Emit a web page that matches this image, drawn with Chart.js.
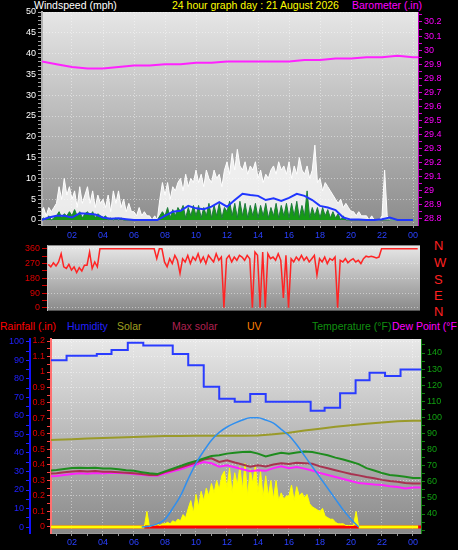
<!DOCTYPE html>
<html>
<head>
<meta charset="utf-8">
<script src="https://cdn.jsdelivr.net/npm/chart.js@4"></script>
<style>
  body { margin: 0; background: #000; width: 458px; height: 550px; overflow: hidden; position: relative;
         font-family: "Liberation Sans", Arial, sans-serif; }
  canvas { position: absolute; left: 0; }
  .lbl { position: absolute; font-size: 10.5px; line-height: 11px; white-space: nowrap; }
  .dir { position: absolute; left: 434px; font-size: 13px; line-height: 13px; color: #ff2020; }
</style>
</head>
<body>
<div class="lbl" style="left:34px;top:0;color:#fff">Windspeed (mph)</div>
<div class="lbl" style="left:172px;top:0;color:#ffff00">24 hour graph day : 21 August 2026</div>
<div class="lbl" style="left:352px;top:0;color:#ff00ff">Barometer (.in)</div>

<div class="dir" style="top:239px">N</div>
<div class="dir" style="top:256px">W</div>
<div class="dir" style="top:273px">S</div>
<div class="dir" style="top:289px">E</div>
<div class="dir" style="top:305px">N</div>

<div class="lbl" style="left:0;top:321px;color:#ff0000">Rainfall (.in)</div>
<div class="lbl" style="left:67px;top:321px;color:#2020ff">Humidity</div>
<div class="lbl" style="left:117px;top:321px;color:#a0a020">Solar</div>
<div class="lbl" style="left:172px;top:321px;color:#b02050">Max solar</div>
<div class="lbl" style="left:247px;top:321px;color:#ff8000">UV</div>
<div class="lbl" style="left:312px;top:321px;color:#109010">Temperature (°F)</div>
<div class="lbl" style="left:392px;top:321px;color:#ff00ff">Dew Point (°F</div>

<canvas id="windChart" width="458" height="240" style="top:0"></canvas>
<canvas id="dirChart" width="458" height="80" style="top:238px"></canvas>
<canvas id="tempChart" width="458" height="232" style="top:318px"></canvas>

<script>
// ---- dados (horas do dia) ----
// vento a cada 10 min a partir de 00:00 (mph)
const windGust = [
  2, 3, 1, 3, 2, 3,
  4, 8, 5, 10, 6, 8,
  5, 7, 3, 8, 4, 6,
  8, 4, 7, 3, 6, 4,
  5, 3, 6, 2, 7, 4,
  7, 3, 5, 2, 4, 2,
  2, 1, 3, 1, 2, 1,
  1, 0, 1, 0, 5, 9,
  6, 9, 5, 8, 7, 9,
  10, 7, 11, 8, 10, 9,
  12, 9, 11, 8, 12, 10,
  9, 12, 10, 11, 8, 12,
  14, 11, 16, 12, 17, 13,
  12, 14, 11, 13, 12, 14,
  10, 12, 9, 11, 10, 12,
  13, 11, 14, 12, 13, 11,
  14, 10, 13, 11, 15, 12,
  11, 13, 10, 12, 18, 9,
  10, 7, 9, 8, 7, 6,
  5, 4, 5, 3, 4, 3,
  2, 2, 1, 2, 1, 1,
  1, 0, 1, 0, 0, 0,
  1, 12, 1, 0, 0, 0,
  0, 0, 0, 0, 0, 0,
  0, 0
];
const windSpeed = [
  0, 0.5, 0, 1, 0, 0.5,
  1, 2, 0.5, 1.5, 1, 2,
  1, 2.5, 1, 2, 0.5, 1.5,
  2, 1, 2, 0.5, 1.5, 1,
  0.5, 1, 0, 0.5, 0, 0.5,
  0, 0.5, 0, 0, 0, 0,
  0, 0, 0, 0, 0, 0,
  0, 0, 0, 0, 1, 2,
  1, 3, 0.5, 2.5, 1, 3,
  2, 3.5, 0.5, 3, 1, 3.5,
  1, 3.5, 0.5, 3, 1, 4,
  0.5, 3.5, 1, 4, 0.5, 3,
  2, 4.5, 1, 4, 0.5, 4.5,
  1, 4, 0.5, 3.5, 1, 4,
  0.5, 3.5, 1, 4, 0.5, 3,
  1, 4, 0.5, 3.5, 1, 4,
  0.5, 4, 1, 4.5, 0.5, 3.5,
  1, 7, 0.5, 3, 1, 3,
  0.5, 3, 1, 2.5, 0.5, 2,
  0.5, 1.5, 0, 1, 0, 0,
  0, 0, 0, 0, 0, 0,
  0, 0, 0, 0, 0, 0,
  0, 0, 0, 0, 0, 0,
  0, 0, 0, 0, 0, 0,
  0, 0
];
// média a cada 30 min a partir de 00:00
const windAvg = [
  0, 0.6, 1, 1, 0.6, 1.6, 1.5, 1.3, 0.6, 0.3, 0.4, 0.2, 0, 0, 0, 0,
  1, 2, 2.2, 3.4, 2.8, 2.6, 3.2, 4.3, 3.2, 4.8, 6.3, 6, 5.8, 4.8, 5.2, 4.6,
  5.3, 6.3, 5.8, 4.8, 3.4, 3, 2.4, 0.6, 0.1, 0.1, 0, 0, 0.2, 0.6, 0, 0, 0
];
// barômetro de hora em hora a partir de 00:00 (inHg)
const barometer = [
  29.92, 29.90, 29.88, 29.87, 29.87, 29.88, 29.89, 29.89, 29.90, 29.90, 29.91, 29.91, 29.92,
  29.92, 29.92, 29.92, 29.92, 29.93, 29.93, 29.94, 29.94, 29.95, 29.95, 29.96, 29.95, 29.95
];
// direção do vento a cada 10 min a partir de 00:30 (graus)
const windDir = [
  265, 250, 275,
  255, 280, 330, 250, 240, 265,
  230, 250, 215, 245, 225, 260,
  260, 340, 240, 280, 250, 360,
  360, 360, 360, 360, 360, 360,
  360, 360, 360, 360, 360, 360,
  360, 360, 360, 360, 360, 360,
  360, 360, 360, 300, 360, 360,
  280, 250, 300, 270, 320, 290,
  210, 300, 280, 320, 270, 310,
  290, 330, 280, 310, 270, 320,
  300, 280, 330, 290, 310, 0,
  300, 320, 280, 310, 290, 320,
  310, 290, 320, 300, 0, 340,
  320, 0, 340, 0, 330, 300,
  310, 290, 330, 290, 60, 320,
  0, 300, 280, 310, 290, 320,
  290, 310, 280, 300, 320, 200,
  300, 280, 310, 270, 300, 290,
  310, 0, 290, 280, 300, 275,
  290, 300, 280, 290, 270, 300,
  315, 310, 315, 310, 305, 310,
  360, 360, 360, 360, 360, 360,
  360, 360, 360, 360, 360, 360,
  360, 360, 360
];
// umidade (%) em degraus: hora de início e valor
const humidityTimes = [0.5, 1.65, 3.6, 4.55, 5.6, 6.6, 8.5, 9.5, 10.5, 11.5, 12.5, 13.5, 14.5, 17.4, 18.3, 19.3, 20.3, 21.2, 22.2, 23.2, 24.1, 24.6];
const humidity = [89, 90, 92.5, 93.4, 95.5, 99.5, 98, 93.4, 87.4, 75.7, 69.2, 67.6, 71.8, 67.6, 62.8, 64.4, 72.2, 79.3, 83.3, 81.5, 85, 85];
// temperaturas a cada 30 min a partir de 00:30 (°F)
const temperature = [
  67.0, 67.3, 68.0, 68.5, 68.8, 68.5, 68.7, 68.3, 68.2, 67.8, 67.2, 66.8, 66.0, 65.3, 64.8, 66.5,
  68.2, 69.8, 71.5, 73.0, 74.5, 76.0, 76.5, 77.5, 78.0, 78.5, 78.7, 77.5, 75.8, 77.0, 78.0, 77.5,
  78.2, 78.8, 78.5, 77.5, 76.5, 75.0, 73.8, 72.5, 71.0, 68.5, 67.0, 65.5, 64.2, 63.8, 63.2, 62.4, 62.4
];
const feelsLike = [
  65.1, 65.3, 65.9, 66.4, 66.7, 66.4, 66.7, 66.3, 66.2, 66.0, 65.6, 65.3, 64.8, 64.3, 64.2, 66.0,
  67.3, 68.8, 70.4, 72.0, 73.8, 74.6, 72.3, 73.4, 72.0, 70.8, 69.4, 70.2, 69.5, 70.8, 71.5, 71.0,
  71.8, 71.6, 71.2, 69.6, 68.4, 67.2, 66.0, 64.8, 64.0, 63.0, 62.2, 61.2, 60.5, 60.0, 59.2, 59.0, 59.0
];
const dewPoint = [
  63.4, 63.6, 64.2, 64.8, 65.3, 65.0, 65.4, 65.2, 65.6, 65.4, 65.3, 64.9, 64.4, 63.9, 63.8, 65.2,
  66.6, 67.8, 69.5, 70.8, 72.3, 71.5, 69.4, 70.2, 69.0, 67.8, 66.5, 67.2, 66.8, 68.5, 69.6, 68.5,
  69.2, 68.2, 67.0, 65.5, 64.2, 63.0, 61.8, 60.5, 59.2, 58.8, 58.3, 58.0, 57.3, 56.8, 55.8, 56.5, 56.5
];
// temperatura interna de hora em hora a partir de 00:00 (°F)
const indoorTemp = [
  85.8, 86.1, 86.5, 86.9, 87.2, 87.5, 87.9, 88.2, 88.4, 88.5, 88.6, 88.6, 88.6,
  88.6, 88.7, 89.5, 90.5, 91.8, 93.0, 94.2, 95.2, 96.0, 96.8, 97.6, 97.9, 98.0
];
// radiação solar máxima a cada 30 min a partir de 06:30 (W/m²)
const maxSolar = [
  0, 5, 20, 50, 120, 200, 310, 410, 490, 560, 610, 645, 670, 690, 705,
  705, 690, 670, 630, 590, 530, 460, 390, 320, 250, 180, 110, 50, 0
];
// radiação solar a cada 10 min a partir de 00:30 (W/m²)
const solar = [
  0, 0, 0,
  0, 0, 0, 0, 0, 0,
  0, 0, 0, 0, 0, 0,
  0, 0, 0, 0, 0, 0,
  0, 0, 0, 0, 0, 0,
  0, 0, 0, 0, 0, 0,
  0, 0, 0, 0, 0, 100,
  0, 10, 10, 20, 10, 20,
  20, 30, 20, 40, 30, 50,
  40, 80, 60, 120, 170, 90,
  210, 130, 230, 170, 250, 200,
  280, 220, 300, 240, 330, 360,
  250, 380, 220, 350, 270, 390,
  240, 410, 200, 370, 280, 400,
  220, 360, 190, 330, 200, 300,
  180, 300, 170, 220, 180, 200,
  200, 270, 170, 260, 200, 220,
  190, 210, 150, 130, 120, 110,
  100, 120, 70, 60, 50, 50,
  30, 20, 20, 20, 10, 10,
  10, 10, 100, 0, 0, 0,
  0, 0, 0, 0, 0, 0,
  0, 0, 0, 0, 0, 0,
  0, 0, 0, 0, 0, 0,
  0, 0, 0
];
// chuva de hora em hora a partir de 00:00 (in)
const rainfall = [0, 0, 0, 0, 0, 0, 0, 0, 0, 0, 0, 0, 0, 0, 0, 0, 0, 0, 0, 0, 0, 0, 0, 0, 0, 0];

// monta os pontos {x: hora, y: valor} de uma série com passo fixo
function pts(start, step, values) {
    return values.map((v, i) => ({ x: start + i * step, y: v }));
}

// Plugin que pinta o fundo cinza em degradê da área do gráfico
const plotBackground = {
    id: 'plotBackground',
    beforeDraw(chart, args, opts) {
        const { ctx, chartArea: a } = chart;
        const g = ctx.createLinearGradient(0, a.top, 0, a.bottom);
        g.addColorStop(0, opts.top);
        g.addColorStop(1, opts.bottom);
        ctx.save();
        ctx.fillStyle = g;
        ctx.fillRect(a.left, a.top, a.right - a.left, a.bottom - a.top);
        ctx.restore();
    }
};

const small = { size: 9, family: '"Liberation Sans", Arial, sans-serif' };
const dotted = 'rgba(255,255,255,0.45)';
const hourLabel = v => (v % 2 === 0 ? String(v % 24).padStart(2, '0') : '');
const hourGrid = c => (c.tick && c.tick.value % 2 === 0 ? dotted : 'transparent');

// Gráfico de vento + barômetro
new Chart(document.getElementById('windChart'), {
    type: 'line',
    plugins: [plotBackground],
    data: {
        datasets: [
            { label: 'Barometer', data: pts(0, 1, barometer), yAxisID: 'yBaro', borderColor: '#ff22ff', borderWidth: 2, order: 0 },
            { label: 'Average', data: pts(0, 0.5, windAvg), yAxisID: 'y', borderColor: '#2036ff', borderWidth: 2, order: 1 },
            { label: 'Speed', data: pts(0, 1 / 6, windSpeed), yAxisID: 'y', borderColor: '#1f7a3f', backgroundColor: '#169a16', fill: 'origin', borderWidth: 1, order: 2 },
            { label: 'Gust', data: pts(0, 1 / 6, windGust), yAxisID: 'y', borderColor: '#ffffff', backgroundColor: 'rgba(255,255,255,0.82)', fill: 'origin', borderWidth: 1, order: 3 }
        ]
    },
    options: {
        responsive: false, animation: false,
        layout: { padding: { top: 12 } },
        elements: { point: { radius: 0 }, line: { tension: 0 } },
        plugins: { legend: { display: false }, tooltip: { enabled: false }, plotBackground: { top: '#e6e6e6', bottom: '#8c8c8c' } },
        scales: {
            x: {
                type: 'linear', min: 0.065, max: 24.32,
                ticks: { stepSize: 1, includeBounds: false, autoSkip: false, maxRotation: 0, color: '#2a40ff', font: small, padding: 2, callback: hourLabel },
                grid: { color: hourGrid, tickColor: '#999', tickLength: 3 },
                border: { color: '#999', dash: [1, 2] },
                afterFit: s => { s.height = 15; }
            },
            y: {
                position: 'left', min: -1.2, max: 50,
                ticks: { stepSize: 1, includeBounds: false, autoSkip: false, color: '#ffffff', font: small, padding: 2, callback: v => (v % 5 === 0 && v >= 0 ? v : '') },
                grid: { color: c => (c.tick && c.tick.value % 5 === 0 && c.tick.value > 0 ? dotted : 'transparent'), tickColor: '#a0a0a0', tickLength: 4 },
                border: { color: '#b0b0b0', width: 2, dash: [1, 2] },
                afterFit: s => { s.width = 42; }
            },
            yBaro: {
                position: 'right', min: 28.757, max: 30.271,
                ticks: { stepSize: 0.05, includeBounds: false, autoSkip: false, color: '#ff00ff', font: small, padding: 2,
                         callback: v => (Math.round(v * 100) % 10 === 0 ? String(Math.round(v * 10) / 10) : '') },
                grid: { drawOnChartArea: false, tickColor: '#d000d0', tickLength: 4 },
                border: { color: '#c000c0' },
                afterFit: s => { s.width = 40; }
            }
        }
    }
});

// Gráfico de direção do vento
new Chart(document.getElementById('dirChart'), {
    type: 'line',
    plugins: [plotBackground],
    data: {
        datasets: [
            { label: 'Direction', data: pts(0.5, 1 / 6, windDir), borderColor: '#ff2424', borderWidth: 1.5 }
        ]
    },
    options: {
        responsive: false, animation: false,
        layout: { padding: { top: 5, bottom: 5, right: 38 } },
        elements: { point: { radius: 0 }, line: { tension: 0 } },
        plugins: { legend: { display: false }, tooltip: { enabled: false }, plotBackground: { top: '#e8e8e8', bottom: '#8a8a8a' } },
        scales: {
            x: {
                type: 'linear', min: 0.42, max: 24.48,
                ticks: { display: false },
                grid: { display: false },
                border: { display: false },
                afterFit: s => { s.height = 0; }
            },
            y: {
                min: -17, max: 381,
                ticks: { stepSize: 45, includeBounds: false, autoSkip: false, color: '#e00000', font: small, padding: 2, callback: v => (v % 90 === 0 ? v : '') },
                grid: { color: c => (c.tick && c.tick.value % 90 === 0 ? dotted : 'transparent'), tickColor: '#d00000', tickLength: 5 },
                border: { color: '#c0c0c0', dash: [1, 2] },
                afterFit: s => { s.width = 47; }
            }
        }
    }
});

// Gráfico de chuva, umidade, solar e temperaturas
new Chart(document.getElementById('tempChart'), {
    type: 'line',
    plugins: [plotBackground],
    data: {
        datasets: [
            { label: 'Humidity', data: humidityTimes.map((t, i) => ({ x: t, y: humidity[i] })), yAxisID: 'yHum', stepped: 'after', borderColor: '#2a3cff', borderWidth: 2, order: 0 },
            { label: 'Max solar', data: pts(6.5, 0.5, maxSolar), yAxisID: 'ySolar', borderColor: '#2f8fef', borderWidth: 1.5, tension: 0.4, cubicInterpolationMode: 'monotone', order: 1 },
            { label: 'Temperature', data: pts(0.5, 0.5, temperature), yAxisID: 'yTemp', borderColor: '#1e8c1e', borderWidth: 2, order: 2 },
            { label: 'Feels like', data: pts(0.5, 0.5, feelsLike), yAxisID: 'yTemp', borderColor: '#a83250', borderWidth: 2, order: 3 },
            { label: 'Dew point', data: pts(0.5, 0.5, dewPoint), yAxisID: 'yTemp', borderColor: '#ff22ff', borderWidth: 2, order: 4 },
            { label: 'Indoor', data: pts(0, 1, indoorTemp), yAxisID: 'yTemp', borderColor: '#9a9a2a', borderWidth: 2, order: 5 },
            { label: 'Solar', data: pts(0.5, 1 / 6, solar), yAxisID: 'ySolar', borderColor: '#ffff00', backgroundColor: '#ffff00', fill: 'origin',
              borderWidth: 1, segment: { borderWidth: c => (c.p0.parsed.y === 0 && c.p1.parsed.y === 0 ? 3 : 1) }, order: 6 },
            { label: 'Rainfall', data: pts(0, 1, rainfall), yAxisID: 'yRain', borderColor: '#ff0000', borderWidth: 3, order: 7 }
        ]
    },
    options: {
        responsive: false, animation: false,
        layout: { padding: { top: 21 } },
        elements: { point: { radius: 0 }, line: { tension: 0 } },
        plugins: {
            legend: { display: false }, tooltip: { enabled: false },
            filler: { drawTime: 'beforeDatasetsDraw' },
            plotBackground: { top: '#e8e8e8', bottom: '#8a8a8a' }
        },
        scales: {
            x: {
                type: 'linear', min: 0.645, max: 24.52,
                ticks: { stepSize: 1, includeBounds: false, autoSkip: false, maxRotation: 0, color: '#2a40ff', font: small, padding: 1, callback: hourLabel },
                grid: { color: hourGrid, tickColor: '#999', tickLength: 3 },
                border: { color: '#999', dash: [1, 2] },
                afterFit: s => { s.height = 17; }
            },
            yHum: {
                position: 'left', weight: 1, min: -3.2, max: 101.5,
                ticks: { stepSize: 5, includeBounds: false, autoSkip: false, color: '#2020ff', font: small, padding: 2, callback: v => (v % 10 === 0 ? v : '') },
                grid: { drawOnChartArea: false, tickColor: '#2020ff', tickLength: 4 },
                border: { color: '#1010ff', width: 2 },
                afterFit: s => { s.width = 30; }
            },
            yRain: {
                position: 'left', weight: 0, min: -0.039, max: 1.213,
                ticks: { stepSize: 0.05, includeBounds: false, autoSkip: false, color: '#e00000', font: small, padding: 2,
                         callback: v => (Math.round(v * 100) % 10 === 0 ? String(Math.round(v * 10) / 10) : '') },
                grid: { color: c => (c.tick && Math.round(c.tick.value * 100) % 10 === 0 && c.tick.value > 0 ? dotted : 'transparent'), tickColor: '#ff4040', tickLength: 4 },
                border: { color: '#ff7070', width: 2, dash: [1, 2] },
                afterFit: s => { s.width = 21; }
            },
            yTemp: {
                position: 'right', min: 28.2, max: 148.7,
                ticks: { stepSize: 5, includeBounds: false, autoSkip: false, color: '#10a010', font: small, padding: 2,
                         callback: v => (v % 10 === 0 && v >= 40 && v <= 140 ? v : '') },
                grid: { drawOnChartArea: false, tickColor: '#108010', tickLength: 4 },
                border: { color: '#108010' },
                afterFit: s => { s.width = 37; }
            },
            ySolar: { display: false, min: -39, max: 1213 }
        }
    }
});
</script>
</body>
</html>
